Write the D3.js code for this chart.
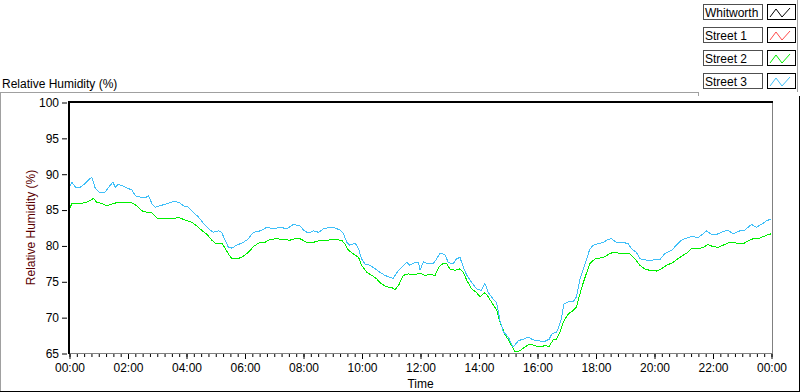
<!DOCTYPE html>
<html>
<head>
<meta charset="utf-8">
<script src="https://cdn.jsdelivr.net/npm/d3@7"></script>
<style>
  body { margin: 0; background: #fff; }
  svg { display: block; font-family: "Liberation Sans", Arial, sans-serif; }
</style>
</head>
<body>
<div id="chart"></div>
<script>
// legend entries (only Street 2 and Street 3 have data on the graph)
var seriesNames = ["Whitworth", "Street 1", "Street 2", "Street 3"];
var seriesColors = ["#000000", "#ff4a4a", "#00f000", "#3fbff8"];

var yTicks = [65, 70, 75, 80, 85, 90, 95, 100];
var xTickHours = [0, 2, 4, 6, 8, 10, 12, 14, 16, 18, 20, 22, 24];

// minutes after midnight / relative humidity %
var street2Minutes = [0, 5, 22, 36, 46, 49, 56, 66, 77, 90,
  100, 114, 128, 138, 148, 159, 169, 179, 193, 213,
  224, 237, 251, 261, 271, 282, 292, 299, 312, 319,
  326, 333, 343, 353, 367, 377, 388, 401, 411, 425,
  439, 452, 463,
  473, 487, 500, 511, 528, 541, 558, 565, 572, 582,
  593, 599, 610, 620, 630, 640, 651, 661, 668, 675,
  685, 695, 709, 719, 729, 739, 750, 757, 767, 774,
  780, 791, 801, 808, 815, 825, 835, 842, 852, 859,
  869, 876, 883, 893, 903, 914, 924, 934, 944, 955,
  965, 975, 984,
  992, 999, 1006, 1013, 1023, 1033, 1040, 1047, 1054, 1061,
  1067, 1078, 1088, 1098, 1108, 1115, 1126, 1139, 1149, 1160,
  1170, 1180, 1190, 1204, 1214, 1225, 1238, 1252, 1266, 1276,
  1290, 1300, 1310, 1320, 1331, 1344, 1354, 1368, 1382, 1392,
  1402, 1416, 1430, 1440];
var street2Values = [85.2, 85.9, 85.9, 86.1, 86.5, 86.6, 86.1, 85.9, 85.6, 85.9,
  86.1, 86.1, 86.0, 85.6, 84.9, 84.7, 84.6, 83.9, 83.8, 83.8,
  84.0, 83.6, 83.3, 82.8, 82.2, 81.6, 80.8, 80.4, 80.4, 79.7,
  78.9, 78.2, 78.2, 78.4, 79.1, 79.9, 80.4, 80.5, 80.9, 81.0,
  80.9, 80.8, 81.0,
  81.0, 80.5, 80.5, 80.7, 80.8, 80.9, 80.8, 80.3, 79.4, 78.9,
  78.4, 77.3, 76.3, 75.9, 75.4, 74.7, 74.3, 74.2, 73.9, 74.5,
  75.9, 76.1, 76.0, 76.2, 75.9, 76.0, 75.9, 77.0, 77.6, 77.5,
  76.8, 76.6, 76.8, 76.3, 75.2, 74.0, 73.5, 72.9, 73.5, 72.9,
  71.8, 71.1, 69.4, 67.7, 66.6, 65.2, 65.4, 65.9, 66.3, 66.1,
  65.9, 66.1, 66.0,
  66.9, 67.0, 68.0, 69.4, 70.5, 71.0, 71.5, 73.3, 74.9, 76.3,
  77.5, 78.2, 78.3, 78.5, 78.9, 79.1, 79.0, 79.0, 78.9, 78.2,
  77.3, 76.8, 76.6, 76.5, 76.8, 77.3, 77.7, 78.4, 79.0, 79.6,
  79.6, 79.8, 80.2, 79.9, 79.8, 80.2, 80.5, 80.4, 80.3, 80.7,
  81.0, 81.1, 81.5, 81.7];

var street3Minutes = [0, 5, 12, 22, 32, 42, 46, 53, 63, 73,
  83, 89, 94, 100, 111, 121, 128, 135, 145, 155,
  162, 169, 176, 186, 200, 213, 224, 234, 244, 254,
  265, 275, 285, 295, 306, 312, 319, 326, 333, 343,
  357, 367, 377, 391, 405, 418, 432, 446, 459,
  473, 480, 490, 500, 511, 521, 534, 545, 555, 562,
  569, 575, 586, 593, 599, 606, 616, 627, 637, 647,
  657, 664, 675, 685, 692, 698, 709, 716, 719, 726,
  736, 746, 753, 760, 770, 777, 787, 794, 801, 808,
  815, 825, 835, 845, 852, 859, 869, 876, 883, 890,
  900, 910, 921, 931, 941, 951, 962, 972, 984,
  989, 999, 1002, 1009, 1014, 1023, 1033, 1040, 1047, 1054,
  1061, 1067, 1074, 1084, 1095, 1105, 1112, 1122, 1136, 1146,
  1153, 1163, 1170, 1180, 1190, 1201, 1211, 1221, 1235, 1245,
  1255, 1266, 1276, 1290, 1300, 1307, 1317, 1327, 1337, 1351,
  1361, 1375, 1385, 1399, 1409, 1419, 1430, 1440];
var street3Values = [88.3, 88.9, 88.2, 88.2, 88.7, 89.4, 89.5, 88.0, 87.4, 87.5,
  88.4, 88.9, 88.2, 88.6, 88.3, 88.0, 87.8, 87.0, 86.8, 86.7,
  87.0, 85.9, 85.4, 85.6, 85.9, 86.2, 86.1, 85.6, 85.4, 84.7,
  84.0, 83.1, 82.4, 81.9, 82.1, 81.9, 80.8, 79.8, 79.7, 80.1,
  80.5, 81.0, 81.9, 82.1, 82.6, 82.4, 82.6, 82.4, 83.0,
  82.8, 82.2, 81.8, 82.1, 81.9, 82.4, 82.6, 82.5, 82.2, 81.7,
  80.5, 80.1, 80.4, 79.6, 78.2, 77.5, 77.3, 76.8, 76.3, 75.9,
  75.6, 75.5, 76.6, 77.3, 77.7, 77.3, 77.7, 77.7, 76.6, 77.8,
  77.5, 77.5, 78.2, 79.0, 78.8, 77.7, 77.5, 78.2, 78.4, 77.0,
  75.9, 74.9, 74.0, 73.8, 74.8, 73.5, 72.6, 72.1, 69.6, 68.0,
  67.3, 65.9, 66.8, 67.0, 67.3, 66.9, 66.8, 66.6, 67.0,
  67.7, 68.0, 68.4, 69.8, 71.9, 72.2, 72.2, 72.9, 75.4, 76.8,
  78.2, 79.5, 80.1, 80.3, 80.5, 80.9, 81.0, 80.5, 80.5, 80.3,
  79.6, 79.1, 78.2, 78.1, 77.9, 78.1, 78.1, 78.9, 79.4, 80.1,
  80.8, 81.1, 81.3, 81.2, 81.7, 82.1, 81.6, 81.6, 81.9, 82.2,
  81.7, 82.1, 82.2, 83.0, 82.6, 83.0, 83.5, 83.8];

function atMinute(m) { return new Date(Date.UTC(2000, 0, 1, 0, m)); }

function drawChart() {
  var width = 800, height = 392;
  var plot = {left: 69, right: 772, top: 102, bottom: 353};

  var svg = d3.select("#chart").append("svg")
      .attr("width", width)
      .attr("height", height);

  var x = d3.scaleUtc()
      .domain([atMinute(0), atMinute(1440)])
      .range([plot.left + 0.5, plot.right - 0.5]);
  var y = d3.scaleLinear()
      .domain([65, 100])
      .range([plot.bottom + 0.5, plot.top + 0.5]);

  // outer panel frame
  svg.append("line").attr("x1", 0).attr("x2", 698).attr("y1", 92.5).attr("y2", 92.5)
      .attr("stroke", "#a0a0a0");
  svg.append("line").attr("x1", 0.5).attr("x2", 0.5).attr("y1", 92).attr("y2", 392)
      .attr("stroke", "#a0a0a0");
  svg.append("line").attr("x1", 0).attr("x2", 800).attr("y1", 391.5).attr("y2", 391.5)
      .attr("stroke", "#000");
  svg.append("line").attr("x1", 799.5).attr("x2", 799.5).attr("y1", 96).attr("y2", 392)
      .attr("stroke", "#000");

  svg.append("text")
      .attr("x", 2)
      .attr("y", 88)
      .style("font-size", "12px")
      .style("fill", "#000")
      .text("Relative Humidity (%)");

  // plot box: dark top/left, grey bottom/right
  svg.append("rect")
      .attr("x", plot.left).attr("y", plot.top)
      .attr("width", plot.right - plot.left).attr("height", plot.bottom - plot.top)
      .attr("fill", "#fff");
  svg.append("line").attr("x1", plot.right + 0.5).attr("x2", plot.right + 0.5)
      .attr("y1", plot.top - 1).attr("y2", plot.bottom + 1).attr("stroke", "#808080");
  svg.append("line").attr("x1", plot.left - 1).attr("x2", plot.right + 1)
      .attr("y1", plot.bottom + 0.5).attr("y2", plot.bottom + 0.5).attr("stroke", "#808080");

  var yAxis = d3.axisLeft(y).tickValues(yTicks).tickSize(5).tickPadding(3);
  svg.append("g")
      .attr("class", "yAxis")
      .attr("transform", "translate(" + (plot.left - 2) + ",0)")
      .call(yAxis)
      .call(function(g) { g.select(".domain").remove(); })
      .call(function(g) { g.selectAll("text").style("font-size", "12px").style("font-family", null).style("fill", "#000"); })
      .call(function(g) { g.selectAll("line").attr("stroke", "#000"); });

  var minorAxis = d3.axisBottom(x).ticks(d3.utcMinute.every(15)).tickSize(3).tickFormat("");
  svg.append("g")
      .attr("transform", "translate(0," + (plot.bottom + 1) + ")")
      .call(minorAxis)
      .call(function(g) { g.select(".domain").remove(); })
      .call(function(g) { g.selectAll("line").attr("stroke", "#000"); });

  var xAxis = d3.axisBottom(x)
      .tickValues(xTickHours.map(function(h) { return atMinute(h * 60); }))
      .tickSize(5).tickPadding(4)
      .tickFormat(d3.utcFormat("%H:%M"));
  svg.append("g")
      .attr("class", "xAxis")
      .attr("transform", "translate(0," + (plot.bottom + 1) + ")")
      .call(xAxis)
      .call(function(g) { g.select(".domain").remove(); })
      .call(function(g) { g.selectAll("text").style("font-size", "12px").style("font-family", null).style("fill", "#000"); })
      .call(function(g) { g.selectAll("line").attr("stroke", "#000"); });

  svg.append("text")
      .attr("x", (plot.left + plot.right) / 2)
      .attr("y", 388)
      .style("text-anchor", "middle")
      .style("font-size", "12px")
      .text("Time");

  svg.append("text")
      .attr("transform", "rotate(-90)")
      .attr("x", -(plot.top + plot.bottom) / 2)
      .attr("y", 35)
      .style("text-anchor", "middle")
      .style("font-size", "12px")
      .style("fill", "#5a0000")
      .text("Relative Humidity (%)");

  // data lines
  var line = d3.line()
      .x(function(d) { return x(atMinute(d[0])); })
      .y(function(d) { return y(d[1]); });

  var lines = [
    {color: seriesColors[2], points: d3.zip(street2Minutes, street2Values)},
    {color: seriesColors[3], points: d3.zip(street3Minutes, street3Values)}
  ];
  svg.selectAll(".series")
      .data(lines)
      .enter()
      .append("path")
      .attr("class", "series")
      .attr("d", function(d) { return line(d.points); })
      .attr("fill", "none")
      .attr("stroke", function(d) { return d.color; })
      .attr("stroke-width", 1)
      .style("shape-rendering", "crispEdges");

  svg.append("line").attr("x1", plot.left - 1).attr("x2", plot.right + 1)
      .attr("y1", plot.top).attr("y2", plot.top).attr("stroke", "#000").attr("stroke-width", 2);
  svg.append("line").attr("x1", plot.left).attr("x2", plot.left)
      .attr("y1", plot.top - 1).attr("y2", plot.bottom + 1).attr("stroke", "#000").attr("stroke-width", 2);

  // legend, top right
  var legend = svg.append("g").attr("class", "legend");
  legend.append("line").attr("x1", 797.5).attr("x2", 797.5).attr("y1", 0).attr("y2", 92)
      .attr("stroke", "#a0a0a0");
  legend.append("line").attr("x1", 698.5).attr("x2", 698.5).attr("y1", 92).attr("y2", 96)
      .attr("stroke", "#a0a0a0");

  var row = legend.selectAll(".row")
      .data(seriesNames)
      .enter()
      .append("g")
      .attr("class", "row")
      .attr("transform", function(d, i) { return "translate(0," + (4 + i * 23) + ")"; });

  row.append("rect")
      .attr("x", 703.5).attr("y", 0.5).attr("width", 59).attr("height", 15)
      .attr("fill", "#fff").attr("stroke", "#505050");
  row.append("text")
      .attr("x", 705).attr("y", 12.5)
      .style("font-size", "12px")
      .text(function(d) { return d; });
  row.append("rect")
      .attr("x", 767.5).attr("y", 0.5).attr("width", 28).attr("height", 15)
      .attr("fill", "#fff").attr("stroke", "#000");
  row.append("polyline")
      .attr("points", "770,13 776,5 782,13 790,4")
      .attr("fill", "none")
      .attr("stroke", function(d, i) { return seriesColors[i]; });
}

drawChart();
</script>
</body>
</html>
